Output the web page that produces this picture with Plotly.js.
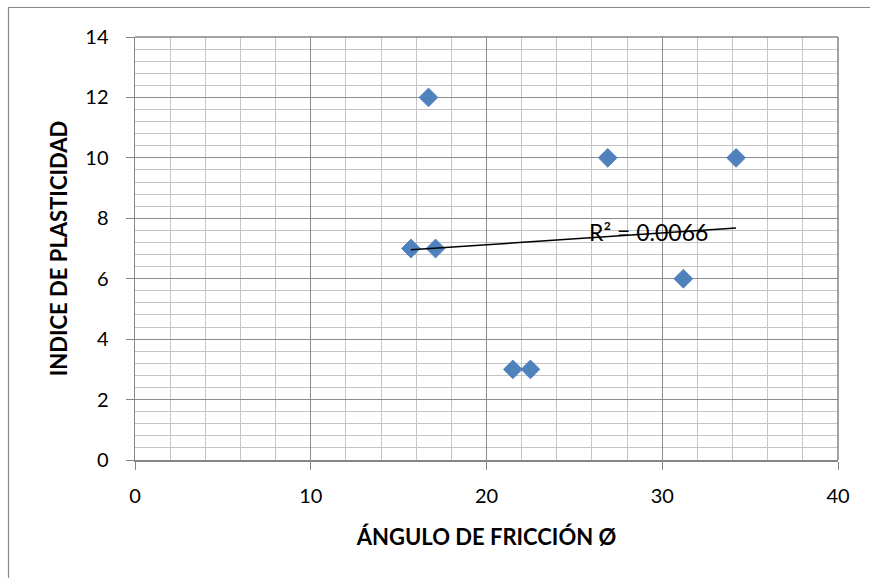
<!DOCTYPE html>
<html>
<head>
<meta charset="utf-8">
<script src="https://cdn.plot.ly/plotly-3.0.1.min.js"></script>
<style>html,body{margin:0;padding:0;background:#fff;}#chart{width:870px;height:578px;}</style>
</head>
<body>
<div id="chart"></div>
<script>
const anguloFriccion = [15.7, 17.1, 16.7, 21.5, 22.5, 26.9, 31.2, 34.2];
const indicePlasticidad = [7, 7, 12, 3, 3, 10, 6, 10];
const xTitle = "ÁNGULO DE FRICCIÓN Ø";
const yTitle = "INDICE DE PLASTICIDAD";
const r2Label = "R² = 0.0066";

// linear regression trendline
const n = anguloFriccion.length;
const mx = anguloFriccion.reduce((a,b)=>a+b,0)/n;
const my = indicePlasticidad.reduce((a,b)=>a+b,0)/n;
let sxy=0, sxx=0;
for (let i=0;i<n;i++){const dx=anguloFriccion[i]-mx, dy=indicePlasticidad[i]-my; sxy+=dx*dy; sxx+=dx*dx;}
const slope = sxy/sxx, icpt = my - slope*mx;
const xmin = Math.min(...anguloFriccion), xmax = Math.max(...anguloFriccion);

const font = "Lato, 'Open Sans', sans-serif";
const traces = [
  {x: anguloFriccion, y: indicePlasticidad, type:'scatter', mode:'markers',
   marker:{symbol:'diamond', size:14.5, color:'#4F81BD', line:{width:0.8, color:'#4A7EBB'}}, hoverinfo:'x+y'},
  {x:[xmin,xmax], y:[icpt+slope*xmin, icpt+slope*xmax], type:'scatter', mode:'lines',
   line:{color:'#000', width:1.5}, hoverinfo:'skip'}
];
const layout = {
  width:870, height:578, showlegend:false,
  paper_bgcolor:'#fff', plot_bgcolor:'#fff',
  margin:{l:135, r:32, t:37, b:118},
  font:{family:font, color:'#000', size:20},
  xaxis:{range:[0,40], dtick:10, tick0:0, showline:true, linecolor:'#868686', linewidth:1.5, mirror:false,
    ticks:'outside', ticklen:8, tickcolor:'#868686', tickwidth:1, ticklabelstandoff:9,
    showgrid:true, gridcolor:'#8c8c8c', gridwidth:1, zeroline:false,
    minor:{dtick:2, showgrid:true, gridcolor:'#c4c4c4', gridwidth:1, ticks:''},
    tickfont:{size:20, family:font},
    title:{text:xTitle, font:{size:22, family:font, weight:'bold'}, standoff:24},
    fixedrange:true},
  yaxis:{range:[0,14], dtick:2, tick0:0, showline:true, linecolor:'#868686', linewidth:1.5,
    ticks:'outside', ticklen:8, tickcolor:'#868686', tickwidth:1, ticklabelstandoff:13,
    showgrid:true, gridcolor:'#8c8c8c', gridwidth:1, zeroline:false,
    minor:{dtick:0.4, showgrid:true, gridcolor:'#c4c4c4', gridwidth:1, ticks:''},
    tickfont:{size:20, family:font},
    title:{text:yTitle, font:{size:22, family:font, weight:'bold'}, standoff:11},
    fixedrange:true},
  annotations:[{x:29.2, y:7.55, xref:'x', yref:'y', text:r2Label,
    showarrow:false, font:{size:23, family:font, color:'#000'}}],
  shapes:[
    {type:'line', xref:'paper', yref:'paper', x0:1, x1:1, y0:0, y1:1, line:{color:'#868686', width:1.5}},
    {type:'line', xref:'paper', yref:'paper', x0:0, x1:1, y0:1, y1:1, line:{color:'#868686', width:1.5}}
  ]
};
Plotly.newPlot('chart', traces, layout, {displayModeBar:false, staticPlot:true}).then(()=>{
  const svg = document.querySelector('#chart .main-svg');
  const ns='http://www.w3.org/2000/svg';
  [[8.5,7,8.5,578],[8,7.5,870,7.5]].forEach(c=>{
    const l=document.createElementNS(ns,'line');
    l.setAttribute('x1',c[0]);l.setAttribute('y1',c[1]);l.setAttribute('x2',c[2]);l.setAttribute('y2',c[3]);
    l.setAttribute('stroke','#8a8a8a');l.setAttribute('stroke-width','1.2');
    svg.appendChild(l);
  });
});
</script>
</body>
</html>
